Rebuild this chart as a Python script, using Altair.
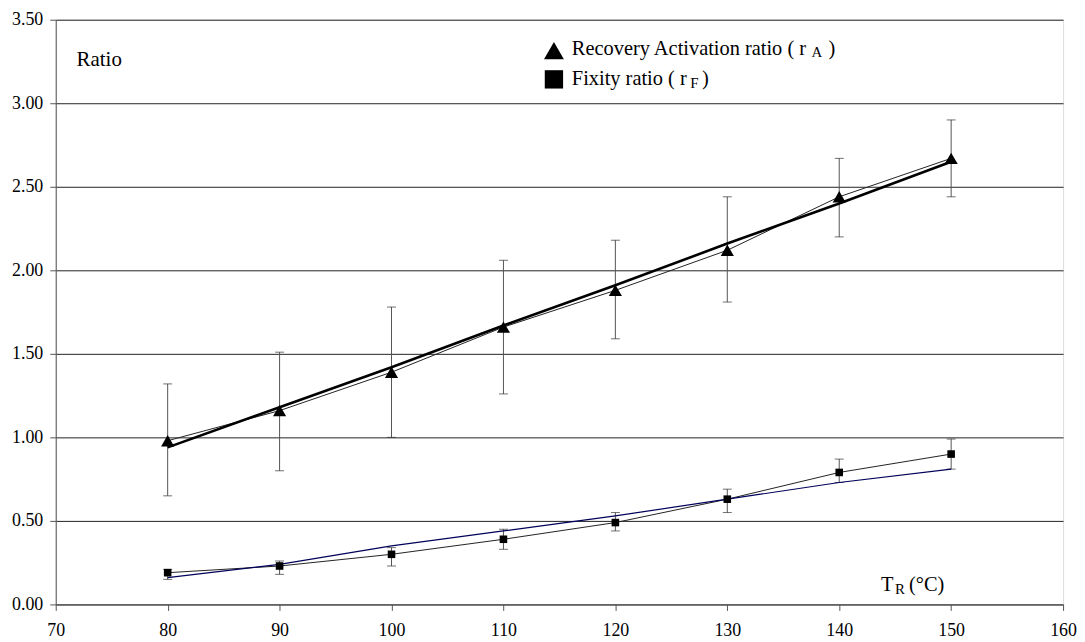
import altair as alt
import pandas as pd

temps = [80, 90, 100, 110, 120, 130, 140, 150]
rA = [0.98, 1.16, 1.39, 1.66, 1.88, 2.12, 2.44, 2.67]
rA_hi = [1.32, 1.51, 1.78, 2.06, 2.18, 2.44, 2.67, 2.90]
rA_lo = [0.65, 0.80, 1.00, 1.26, 1.59, 1.81, 2.20, 2.44]
rA_fit = [0.94, 1.18, 1.42, 1.67, 1.91, 2.16, 2.40, 2.65]

rF = [0.19, 0.23, 0.30, 0.39, 0.49, 0.63, 0.79, 0.90]
rF_hi = [0.21, 0.26, 0.34, 0.45, 0.55, 0.69, 0.87, 0.99]
rF_lo = [0.15, 0.18, 0.23, 0.33, 0.44, 0.55, 0.73, 0.81]
rF_fit = [0.16, 0.24, 0.35, 0.44, 0.53, 0.63, 0.73, 0.81]

x_ticks = [70, 80, 90, 100, 110, 120, 130, 140, 150, 160]
y_ticks = [0, 0.5, 1.0, 1.5, 2.0, 2.5, 3.0, 3.5]

FONT = "Liberation Serif"

dfA = pd.DataFrame({"T": temps, "v": rA, "hi": rA_hi, "lo": rA_lo, "fit": rA_fit})
dfF = pd.DataFrame({"T": temps, "v": rF, "hi": rF_hi, "lo": rF_lo, "fit": rF_fit})

xs = alt.Scale(domain=[70, 160], nice=False)
ys = alt.Scale(domain=[0, 3.5], nice=False)

X = alt.X("T:Q", scale=xs, axis=alt.Axis(values=x_ticks, title=None, grid=False,
          labelFont=FONT, labelFontSize=18, labelColor="#000", labelPadding=11,
          tickSize=6, tickColor="#555", domainColor="#555", labelFlush=False))


def Y(field, axis=True):
    if axis:
        return alt.Y(field, type="quantitative", scale=ys, axis=alt.Axis(
            values=y_ticks, format=".2f", title=None, grid=True, gridColor="#222",
            gridWidth=1, labelFont=FONT, labelFontSize=18, labelColor="#000",
            labelPadding=7, tickSize=6, tickColor="#555", domainColor="#555"))
    return alt.Y(field, type="quantitative", scale=ys)


def series(df, shape, msize, fitcolor, fitwidth, first=False):
    base = alt.Chart(df)
    err = base.mark_rule(color="#555", strokeWidth=1).encode(x=X, y=Y("lo", first), y2="hi:Q")
    cap_hi = base.mark_tick(color="#333", orient="horizontal", size=9, thickness=1).encode(x=X, y=Y("hi", False))
    cap_lo = base.mark_tick(color="#333", orient="horizontal", size=9, thickness=1).encode(x=X, y=Y("lo", False))
    line = base.mark_line(color="#222", strokeWidth=1).encode(x=X, y=Y("v", False))
    fit = base.mark_line(color=fitcolor, strokeWidth=fitwidth).encode(x=X, y=Y("fit", False))
    pts = base.mark_point(shape=shape, filled=True, color="#000", size=msize, opacity=1).encode(x=X, y=Y("v", False))
    return [err, cap_hi, cap_lo, line, fit, pts]


one = pd.DataFrame({"k": [0]})


def label(txt, x, y, size=18, align="left"):
    return alt.Chart(one).mark_text(text=txt, font=FONT, fontSize=size, color="#000",
                                    align=align, baseline="alphabetic").encode(
        x=alt.value(x), y=alt.value(y))


def legsym(shape, x, y, size):
    return alt.Chart(one).mark_point(shape=shape, filled=True, color="#000", size=size, opacity=1).encode(
        x=alt.value(x), y=alt.value(y))


layers = series(dfA, "triangle-up", 175, "#000", 2.6, first=True) + series(dfF, "square", 58, "#00005a", 1.2)
layers += [
    label("Ratio", 21, 47, 21),
    legsym("triangle-up", 501, 31, 400),
    label("Recovery Activation ratio ( r", 519, 35, 20.5),
    label("A", 760, 38, 15),
    label(")", 777, 35, 20.5),
    legsym("square", 501, 60, 340),
    label("Fixity ratio ( r", 519, 66, 20.5),
    label("F", 638, 69, 15),
    label(")", 650, 66, 20.5),
    label("T", 830, 575, 20.5),
    label("R", 844, 578, 15),
    label("(°C)", 858, 575, 20.5),
]

chart = alt.layer(*layers).properties(
    width=1013, height=588,
    autosize=alt.AutoSizeParams(type="none"),
    padding={"left": 48, "top": 10, "right": 14, "bottom": 34},
).configure_view(stroke="#000", strokeWidth=1).configure(background="white")

chart.save("out.html", embed_options={"renderer": "svg", "actions": False})
